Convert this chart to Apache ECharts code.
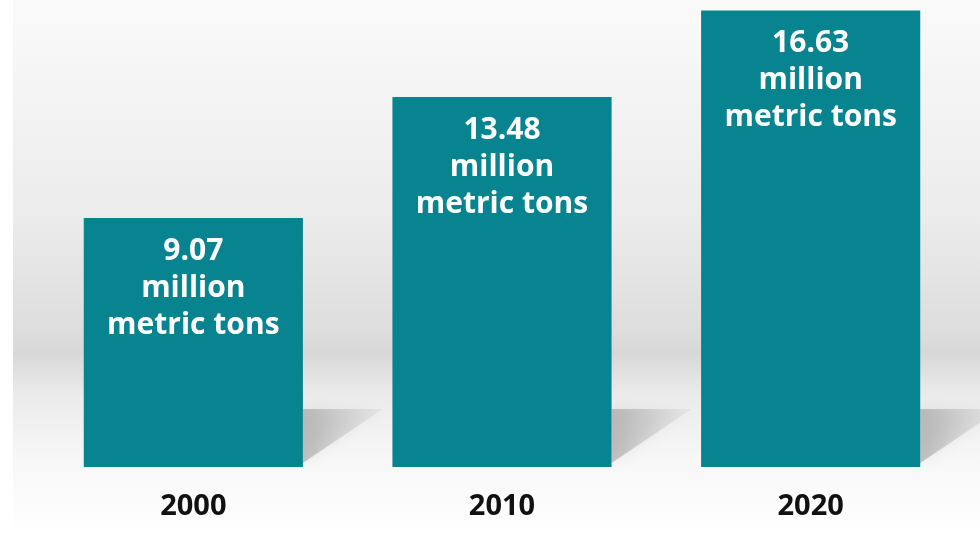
<!DOCTYPE html>
<html><head><meta charset="utf-8">
<style>html,body{margin:0;padding:0;background:#fff}#c{width:980px;height:534px}</style>
<script src="https://cdn.jsdelivr.net/npm/echarts@6/dist/echarts.min.js"></script>
</head><body><div id="c"></div>
<script>
const years = ['2000', '2010', '2020'];
const values = [9.07, 13.48, 16.63];
const unitLines = ['million', 'metric tons'];

const chart = echarts.init(document.getElementById('c'));
chart.setOption({
  animation: false,
  backgroundColor: '#ffffff',
  graphic: [{
    type: 'rect', z: -10, silent: true,
    shape: { x: 13, y: 0, width: 967, height: 534 },
    style: {
      fill: new echarts.graphic.LinearGradient(0, 0, 0, 1, [
        { offset: 0, color: '#fafafa' },
        { offset: 0.4, color: '#ececec' },
        { offset: 0.62, color: '#dddddd' },
        { offset: 0.66, color: '#d8d8d8' },
        { offset: 0.74, color: '#ebebeb' },
        { offset: 0.86, color: '#f7f7f7' },
        { offset: 1, color: '#ffffff' }
      ])
    }
  }],
  grid: { left: 39, right: 15, top: 0, bottom: 67, containLabel: false },
  xAxis: {
    type: 'category', data: years,
    axisLine: { show: false }, axisTick: { show: false },
    axisLabel: { margin: 25, color: '#111', fontSize: 29, fontWeight: 'bold',
      fontFamily: '"Open Sans", Arial, sans-serif' }
  },
  yAxis: { type: 'value', min: 0, max: 17.01, show: false, splitLine: { show: false } },
  series: [{
    type: 'custom',
    z: 1,
    data: values.map((v, i) => [i, v]),
    renderItem: function (params, api) {
      const base = api.coord([api.value(0), 0]);
      const w = api.size([1, 0])[0] * 0.71;
      const xr = base[0] + w / 2;
      const yb = base[1];
      return {
        type: 'polygon',
        shape: { points: [[xr, yb - 4], [xr, yb - 58], [xr + 80, yb - 58]] },
        style: {
          fill: new echarts.graphic.LinearGradient(0, 0, 1, 0, [
            { offset: 0, color: 'rgba(110,110,110,0.38)' },
            { offset: 1, color: 'rgba(140,140,140,0.08)' }
          ]),
          shadowBlur: 14, shadowColor: 'rgba(110,110,110,0.35)'
        }
      };
    }
  }, {
    type: 'bar',
    z: 2,
    data: values,
    barWidth: '71%',
    itemStyle: { color: '#07848f' },
    label: {
      show: true, position: 'insideTop', distance: 15,
      color: '#ffffff', fontSize: 30, fontWeight: 'bold', lineHeight: 37,
      fontFamily: '"Open Sans", Arial, sans-serif',
      formatter: p => p.value.toFixed(2) + '\n' + unitLines.join('\n')
    }
  }]
});
</script></body></html>
